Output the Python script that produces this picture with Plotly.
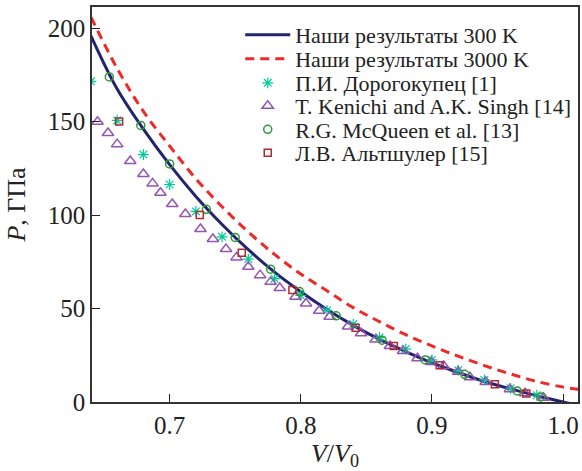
import plotly.graph_objects as go

# Our results, 300 K and 3000 K
v_curve = [0.64, 0.66, 0.68, 0.70, 0.72, 0.74, 0.76, 0.78, 0.80, 0.82, 0.84, 0.86,
           0.88, 0.90, 0.92, 0.94, 0.96, 0.98, 1.00, 1.012]
p_300 = [196, 167.5, 146, 127, 110, 95, 81.5, 69.5, 59, 49.5, 41, 33.5,
         27, 21, 15.8, 11, 7, 3.3, 0, -1.8]
p_3000 = [206, 178.5, 155.5, 137, 119.5, 104.5, 91, 79, 68.5, 59.5, 50.5, 43,
          36, 30, 24.5, 19.5, 15, 11, 8, 6.8]

# П.И. Дорогокупец [1]
v_dor = [0.64, 0.66, 0.68, 0.70, 0.72, 0.74, 0.76, 0.78, 0.80, 0.82, 0.84, 0.86,
         0.88, 0.90, 0.92, 0.94, 0.96, 0.98]
p_dor = [171.6, 150.7, 132.4, 116.4, 102, 88.4, 76.5, 66, 57, 49, 41.7, 34.5,
         28.3, 22.5, 17, 11.8, 7.3, 3.6]

# T. Kenichi and A.K. Singh [14]
v_ken = [0.645, 0.653, 0.660, 0.670, 0.680, 0.687, 0.693, 0.702, 0.712, 0.7235,
         0.733, 0.743, 0.751, 0.760, 0.769, 0.777, 0.784, 0.796, 0.804, 0.814,
         0.822, 0.836, 0.846, 0.857, 0.868, 0.878, 0.889, 0.8995, 0.909, 0.920,
         0.929, 0.941, 0.9595, 0.971, 0.985]
p_ken = [150, 144, 138, 129, 122, 117, 112, 106, 100.6, 92.6,
         87.2, 81.9, 77.4, 72.4, 67.9, 64.3, 61, 56.3, 52.7, 48.8,
         45.6, 40.4, 36.8, 33.4, 30, 27.3, 23.4, 21.4, 19.3, 16.2,
         13.2, 10.7, 6.8, 4.7, 2.3]

# R.G. McQueen et al. [13]
v_mcq = [0.654, 0.678, 0.700, 0.728, 0.750, 0.777, 0.799, 0.827, 0.862, 0.895,
         0.925, 0.965, 0.983]
p_mcq = [174, 148, 127.4, 103.1, 88.1, 71.1, 59.1, 46.1, 33.1, 22.5,
         14.8, 5.9, 2.7]

# Л.В. Альтшулер [15]
v_alt = [0.6615, 0.723, 0.755, 0.7936, 0.8418, 0.871, 0.906, 0.948, 0.972]
p_alt = [150.1, 100.1, 79.9, 59.9, 39.8, 30, 19.7, 9.5, 4.5]

names = ["Наши результаты 300 K", "Наши результаты 3000 K", "П.И. Дорогокупец [1]",
         "T. Kenichi and A.K. Singh [14]", "R.G. McQueen et al. [13]", "Л.В. Альтшулер [15]"]

FONT = "Liberation Serif"
legend_ids = ["legend", "legend2", "legend3", "legend4", "legend5", "legend6"]

fig = go.Figure()
fig.add_trace(go.Scatter(x=v_curve, y=p_300, mode="lines", line_shape="spline",
                         name=names[0], legend=legend_ids[0],
                         line=dict(color="#23246f", width=3)))
fig.add_trace(go.Scatter(x=v_curve, y=p_3000, mode="lines", line_shape="spline",
                         name=names[1], legend=legend_ids[1],
                         line=dict(color="#f02828", width=3, dash="9px,6px")))
fig.add_trace(go.Scatter(x=v_dor, y=p_dor, mode="markers",
                         name=names[2], legend=legend_ids[2],
                         marker=dict(symbol="asterisk-open", size=9,
                                     line=dict(color="#5cc2dc", width=1.2))))
fig.add_trace(go.Scatter(x=v_ken, y=p_ken, mode="markers",
                         name=names[3], legend=legend_ids[3],
                         marker=dict(symbol="triangle-up-open", size=10, color="#9454b4",
                                     line=dict(color="#9454b4", width=1.5))))
fig.add_trace(go.Scatter(x=v_mcq, y=p_mcq, mode="markers",
                         name=names[4], legend=legend_ids[4],
                         marker=dict(symbol="circle-open", size=8, color="#2f9a35",
                                     line=dict(color="#2f9a35", width=1.5))))
fig.add_trace(go.Scatter(x=v_alt, y=p_alt, mode="markers",
                         name=names[5], legend=legend_ids[5],
                         marker=dict(symbol="square-open", size=7, color="#b02a32",
                                     line=dict(color="#b02a32", width=1.5))))

axis_common = dict(showline=True, mirror=True, linecolor="#333333", linewidth=1.5,
                   ticks="inside", ticklen=8, tickcolor="#222222", tickwidth=1,
                   showgrid=False, zeroline=False,
                   tickfont=dict(family=FONT, size=25, color="#222222"))

# plot area: top 7 px, bottom 402 px
row_px = [35, 59, 83, 106, 129.5, 153]
legends = {}
for lid, ypx in zip(legend_ids, row_px):
    legends[lid] = dict(x=0.305, y=(402 - ypx) / 395, xanchor="left", yanchor="middle",
                        bgcolor="rgba(0,0,0,0)", borderwidth=0,
                        font=dict(family=FONT, size=22, color="#222222"),
                        itemwidth=45, tracegroupgap=0)

fig.update_layout(
    width=582, height=471,
    margin=dict(l=92, r=2, t=7, b=69),
    paper_bgcolor="white", plot_bgcolor="white",
    font=dict(family=FONT, color="#222222"),
    xaxis=dict(range=[0.6408, 1.0114], tickvals=[0.7, 0.8, 0.9, 1.0],
               ticktext=["0.7", "0.8", "0.9", "1.0"],
               title=dict(text="<i>V</i>/<i>V</i><sub>0</sub>",
                          font=dict(family=FONT, size=26), standoff=8),
               **axis_common),
    yaxis=dict(range=[0, 211.4], tickvals=[0, 50, 100, 150, 200],
               title=dict(text="<i>P</i>, ГПа", font=dict(family=FONT, size=26), standoff=15),
               **axis_common),
    showlegend=True,
    **legends,
)

fig.write_html("out.html")
